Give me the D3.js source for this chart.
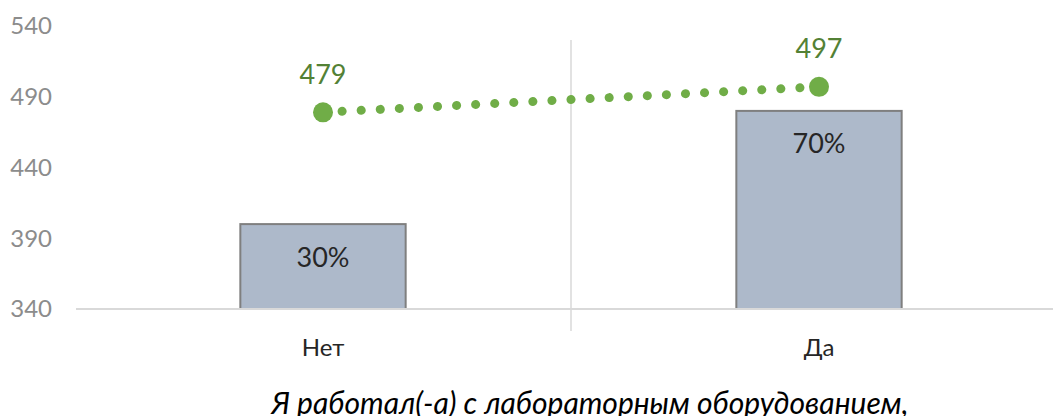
<!DOCTYPE html>
<html>
<head>
<meta charset="utf-8">
<script src="https://cdn.jsdelivr.net/npm/d3@7"></script>
<style>
body{margin:0;background:#fff;}
svg{display:block;font-family:Lato,"Open Sans",sans-serif;}
</style>
</head>
<body>
<div id="chart"></div>
<script>
var categories = ["Нет", "Да"];
var shares = [0.30, 0.70];
var scores = [479, 497];
var yTicks = [340, 390, 440, 490, 540];
var xTitle = "Я работал(-а) с лабораторным оборудованием,";

var svgWidth = 1053;
var svgHeight = 416;

var svg = d3.select("#chart")
    .append("svg")
    .attr("width", svgWidth)
    .attr("height", svgHeight);

var x = d3.scaleBand()
    .domain(categories)
    .range([75, 1067]);

var y = d3.scaleLinear()
    .domain([340, 540])
    .range([309, 26]);

// bars sit on a hidden 0-100% axis
var yPct = d3.scaleLinear()
    .domain([0, 1])
    .range([309, 26]);

// y tick labels
svg.append("g").selectAll("text")
    .data(yTicks)
    .enter()
    .append("text")
    .attr("x", 52)
    .attr("y", d => y(d))
    .attr("dy", "0.35em")
    .attr("text-anchor", "end")
    .attr("font-size", 24)
    .attr("fill", "#8c8c8c")
    .text(d => d);

// separator between categories
svg.append("line")
    .attr("x1", x("Да")).attr("x2", x("Да"))
    .attr("y1", 40).attr("y2", 331)
    .attr("stroke", "#d9d9d9")
    .attr("stroke-width", 1.5);

var barW = x.bandwidth() / 3;

var bars = svg.append("g").selectAll("g")
    .data(categories)
    .enter()
    .append("g");

bars.append("rect")
    .attr("x", d => x(d) + x.bandwidth() / 2 - barW / 2)
    .attr("y", (d, i) => yPct(shares[i]))
    .attr("width", barW)
    .attr("height", (d, i) => yPct(0) - yPct(shares[i]))
    .attr("fill", "#adb9ca")
    .attr("stroke", "#7f7f7f")
    .attr("stroke-width", 2);

bars.append("text")
    .attr("x", d => x(d) + x.bandwidth() / 2)
    .attr("y", (d, i) => yPct(shares[i]) + 33)
    .attr("dy", "0.35em")
    .attr("text-anchor", "middle")
    .attr("font-size", 27)
    .attr("fill", "#262626")
    .text((d, i) => Math.round(shares[i] * 100) + "%");

// x axis line
svg.append("line")
    .attr("x1", 76).attr("x2", svgWidth)
    .attr("y1", y(340)).attr("y2", y(340))
    .attr("stroke", "#d9d9d9")
    .attr("stroke-width", 2);

// category labels
svg.append("g").selectAll("text")
    .data(categories)
    .enter()
    .append("text")
    .attr("x", d => x(d) + x.bandwidth() / 2)
    .attr("y", 348)
    .attr("dy", "0.35em")
    .attr("text-anchor", "middle")
    .attr("font-size", 24)
    .attr("fill", "#262626")
    .text(d => d);

// score line
var line = d3.line()
    .x((d, i) => x(categories[i]) + x.bandwidth() / 2)
    .y(d => y(d));

svg.append("path")
    .datum(scores)
    .attr("d", line)
    .attr("fill", "none")
    .attr("stroke", "#70ad47")
    .attr("stroke-width", 9)
    .attr("stroke-linecap", "round")
    .attr("stroke-dasharray", "0.1 19");

svg.append("g").selectAll("circle")
    .data(scores)
    .enter()
    .append("circle")
    .attr("cx", (d, i) => x(categories[i]) + x.bandwidth() / 2)
    .attr("cy", d => y(d))
    .attr("r", 10)
    .attr("fill", "#70ad47");

svg.append("g").selectAll("text")
    .data(scores)
    .enter()
    .append("text")
    .attr("x", (d, i) => x(categories[i]) + x.bandwidth() / 2)
    .attr("y", d => y(d) - 38)
    .attr("dy", "0.35em")
    .attr("text-anchor", "middle")
    .attr("font-size", 27)
    .attr("fill", "#538135")
    .text(d => d);

// axis title
svg.append("text")
    .attr("x", 590)
    .attr("y", 403)
    .attr("dy", "0.35em")
    .attr("text-anchor", "middle")
    .attr("font-size", 30)
    .attr("font-style", "italic")
    .attr("fill", "#000")
    .text(xTitle);
</script>
</body>
</html>
